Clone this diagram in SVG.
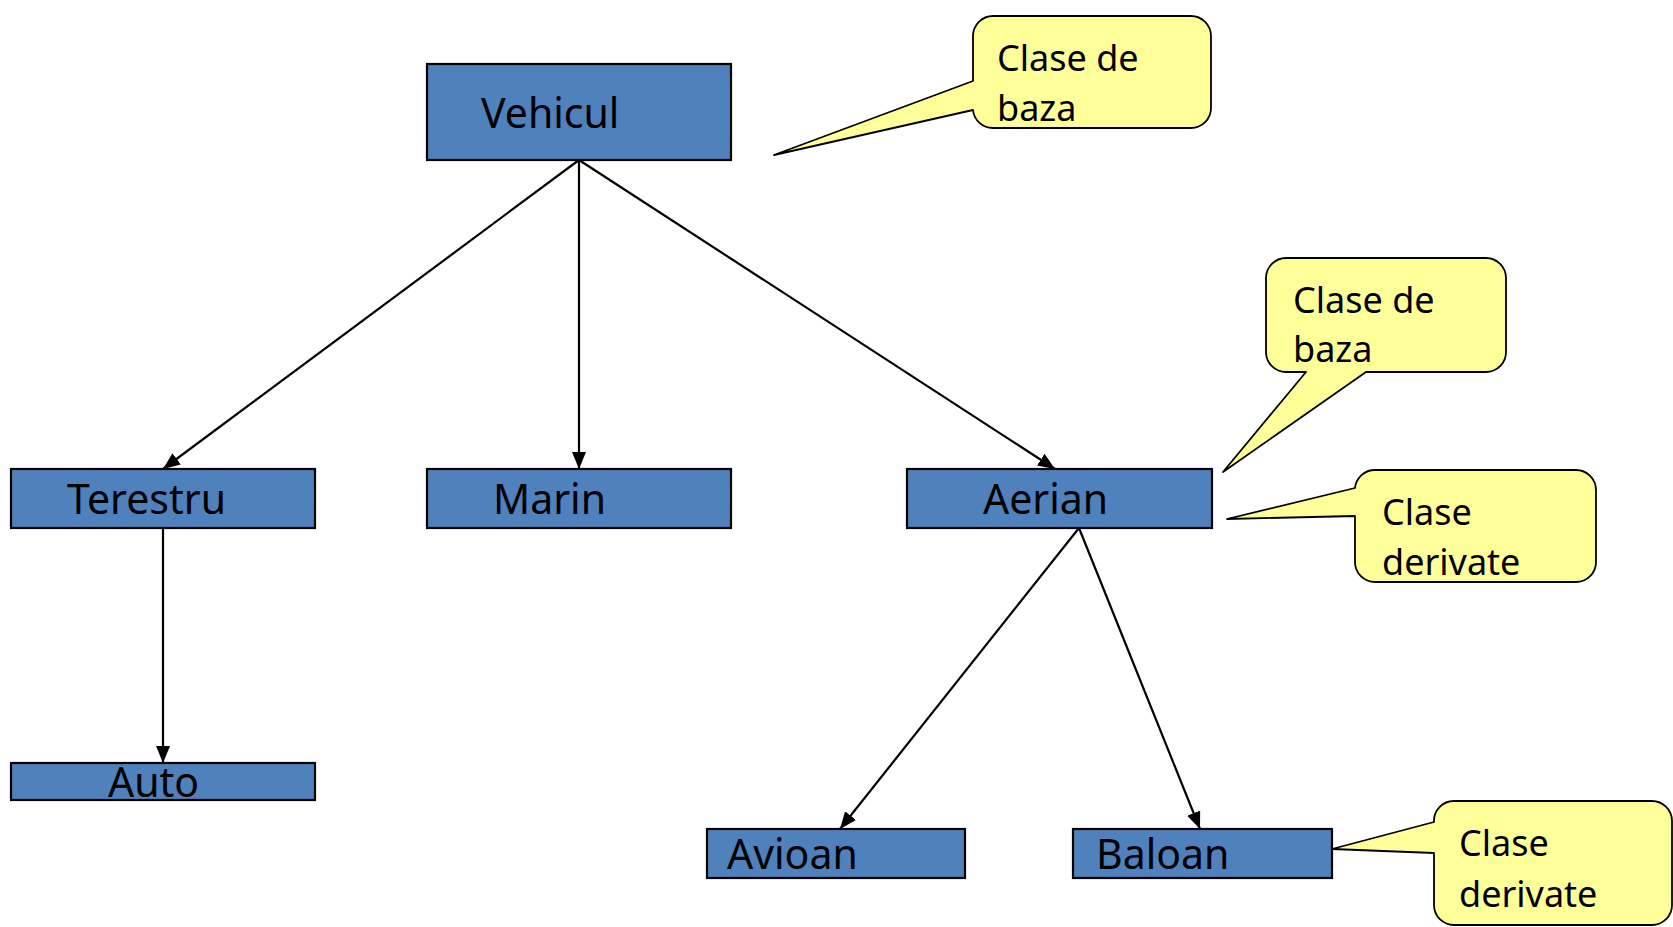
<svg xmlns="http://www.w3.org/2000/svg" width="1673" height="927" viewBox="0 0 1673 927">
<style>
.box{fill:#4F81BD;stroke:#000;stroke-width:2.2}
.lbl{font-family:"Noto Sans","Open Sans","DejaVu Sans",sans-serif;font-size:41px;fill:#000}
.call{fill:#FFFF99;stroke:#000;stroke-width:1.8;stroke-linejoin:round}
.ctxt{font-family:"Noto Sans","Open Sans","DejaVu Sans",sans-serif;font-size:36px;fill:#000}
.edge{stroke:#000;stroke-width:2.2;fill:none;marker-end:url(#arr)}
</style>
<defs>
<marker id="arr" markerUnits="userSpaceOnUse" markerWidth="18" markerHeight="16" refX="17" refY="8" orient="auto">
<path d="M0,1 L17,8 L0,15 Z" fill="#000"/>
</marker>
</defs>
<rect width="1673" height="927" fill="#fff"/>
<g id="connectors">
<line class="edge" x1="579" y1="160" x2="163" y2="469"/>
<line class="edge" x1="579" y1="160" x2="579" y2="469"/>
<line class="edge" x1="579" y1="160" x2="1055" y2="469"/>
<line class="edge" x1="163" y1="528" x2="163" y2="763"/>
<line class="edge" x1="1079" y1="528" x2="840" y2="829"/>
<line class="edge" x1="1079" y1="528" x2="1200" y2="829"/>
</g>
<g id="vehicul"><rect class="box" x="427" y="64" width="304" height="96"/><text class="lbl" x="481" y="128">Vehicul</text></g>
<g id="terestru"><rect class="box" x="11" y="469" width="304" height="59"/><text class="lbl" x="67" y="514">Terestru</text></g>
<g id="marin"><rect class="box" x="427" y="469" width="304" height="59"/><text class="lbl" x="493" y="514">Marin</text></g>
<g id="aerian"><rect class="box" x="907" y="469" width="305" height="59"/><text class="lbl" x="983" y="514">Aerian</text></g>
<g id="auto"><rect class="box" x="11" y="763" width="304" height="37"/><text class="lbl" x="108" y="797">Auto</text></g>
<g id="avioan"><rect class="box" x="707" y="829" width="258" height="49"/><text class="lbl" x="727" y="869">Avioan</text></g>
<g id="baloan"><rect class="box" x="1073" y="829" width="259" height="49"/><text class="lbl" x="1096" y="869">Baloan</text></g>
<g id="callout1">
<path class="call" d="M993,16 H1191 A20,20 0 0 1 1211,36 V108 A20,20 0 0 1 1191,128 H993 A20,20 0 0 1 973,110 L774,155 L973,81 V36 A20,20 0 0 1 993,16 Z"/>
<text class="ctxt" x="997" y="71">Clase de</text><text class="ctxt" x="997" y="121">baza</text>
</g>
<g id="callout2">
<path class="call" d="M1286,258 H1486 A20,20 0 0 1 1506,278 V352 A20,20 0 0 1 1486,372 H1366 L1223,472 L1306,372 H1286 A20,20 0 0 1 1266,352 V278 A20,20 0 0 1 1286,258 Z"/>
<text class="ctxt" x="1293" y="313">Clase de</text><text class="ctxt" x="1293" y="362">baza</text>
</g>
<g id="callout3">
<path class="call" d="M1375,470 H1576 A20,20 0 0 1 1596,490 V562 A20,20 0 0 1 1576,582 H1375 A20,20 0 0 1 1355,562 V516 L1227,519 L1355,488 A20,20 0 0 1 1375,470 Z"/>
<text class="ctxt" x="1382" y="525">Clase</text><text class="ctxt" x="1382" y="575">derivate</text>
</g>
<g id="callout4">
<path class="call" d="M1454,801 H1652 A20,20 0 0 1 1672,821 V905 A20,20 0 0 1 1652,925 H1454 A20,20 0 0 1 1434,905 V853 L1332,849 L1434,822 A20,20 0 0 1 1454,801 Z"/>
<text class="ctxt" x="1459" y="856">Clase</text><text class="ctxt" x="1459" y="907">derivate</text>
</g>
</svg>
